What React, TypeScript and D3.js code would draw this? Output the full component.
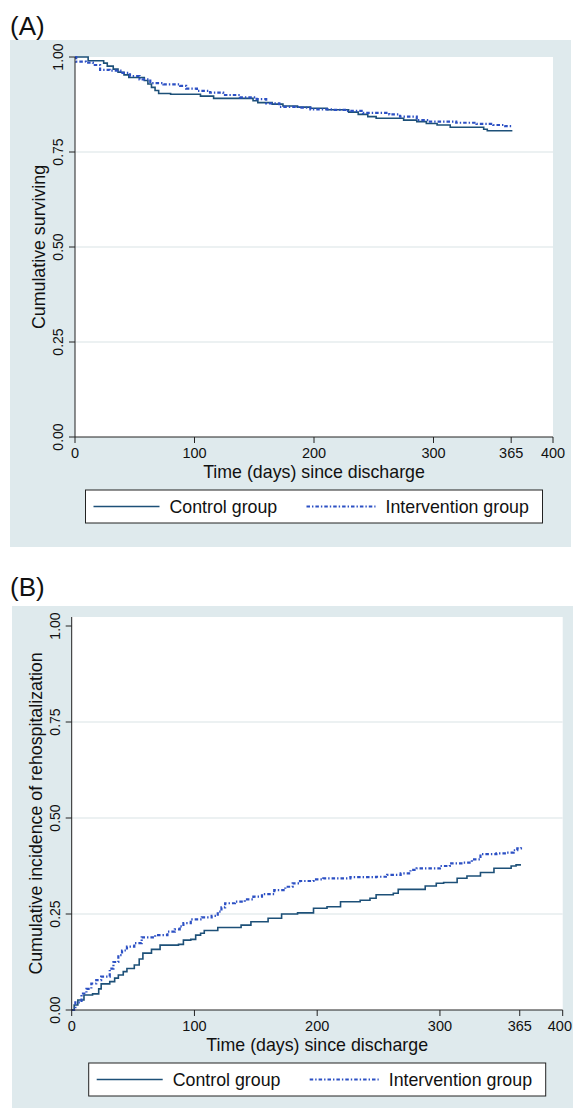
import React from 'react';
import * as d3 from 'd3';

// (day, value) step points
const survivalControl: [number, number][] = [
  [0, 1.0], [11, 0.99], [24, 0.984], [27, 0.976], [32, 0.968], [36, 0.96], [41, 0.953], [45, 0.946],
  [58, 0.938], [61, 0.929], [64, 0.92], [67, 0.912], [70, 0.904], [80, 0.902], [105, 0.897], [116, 0.891],
  [149, 0.885], [153, 0.88], [165, 0.876], [174, 0.871], [186, 0.868], [197, 0.865], [211, 0.861],
  [229, 0.855], [237, 0.849], [245, 0.843], [252, 0.839], [275, 0.834], [286, 0.83], [294, 0.825],
  [303, 0.821], [314, 0.815], [342, 0.81], [345, 0.806], [366, 0.806],
];
const survivalIntervention: [number, number][] = [
  [0, 1.0], [1, 0.988], [9, 0.985], [15, 0.979], [21, 0.966], [29, 0.964], [38, 0.958], [46, 0.95],
  [54, 0.941], [63, 0.931], [74, 0.928], [88, 0.924], [93, 0.917], [102, 0.911], [113, 0.906],
  [124, 0.9], [138, 0.894], [152, 0.889], [160, 0.878], [171, 0.869], [188, 0.867], [197, 0.862],
  [216, 0.861], [227, 0.858], [241, 0.853], [263, 0.849], [272, 0.843], [286, 0.834], [297, 0.83],
  [319, 0.827], [336, 0.824], [350, 0.821], [360, 0.818], [366, 0.818],
];
const rehospControl: [number, number][] = [
  [0, 0], [2, 0.013], [5, 0.026], [10, 0.039], [17, 0.042], [22, 0.055], [24, 0.068], [31, 0.074],
  [35, 0.083], [38, 0.091], [42, 0.1], [45, 0.108], [51, 0.117], [55, 0.133], [58, 0.148], [65, 0.158],
  [72, 0.169], [87, 0.171], [91, 0.182], [97, 0.184], [101, 0.195], [105, 0.2], [108, 0.207],
  [119, 0.215], [138, 0.221], [146, 0.23], [160, 0.239], [171, 0.25], [184, 0.253], [197, 0.265],
  [208, 0.269], [219, 0.282], [235, 0.286], [243, 0.291], [248, 0.3], [262, 0.304], [266, 0.314],
  [288, 0.323], [297, 0.33], [303, 0.332], [314, 0.343], [322, 0.349], [333, 0.358], [344, 0.369],
  [358, 0.375], [362, 0.378], [366, 0.378],
];
const rehospIntervention: [number, number][] = [
  [0, 0], [3, 0.02], [8, 0.043], [12, 0.055], [16, 0.069], [20, 0.078], [24, 0.087], [31, 0.108],
  [34, 0.125], [38, 0.143], [41, 0.155], [45, 0.165], [51, 0.174], [57, 0.189], [68, 0.195],
  [78, 0.204], [84, 0.21], [88, 0.218], [91, 0.226], [97, 0.236], [106, 0.241], [114, 0.245],
  [119, 0.256], [122, 0.267], [125, 0.278], [133, 0.282], [141, 0.288], [148, 0.295], [155, 0.302],
  [165, 0.312], [174, 0.321], [180, 0.33], [186, 0.336], [197, 0.34], [205, 0.343], [227, 0.346],
  [248, 0.347], [257, 0.352], [268, 0.356], [276, 0.365], [281, 0.369], [300, 0.375], [308, 0.382],
  [319, 0.384], [326, 0.392], [333, 0.406], [346, 0.408], [354, 0.41], [360, 0.416], [363, 0.421],
  [366, 0.424],
];

const xTicks = [0, 100, 200, 300, 365, 400];
const yTicks = [0, 0.25, 0.5, 0.75, 1];
const gridTicks = [0.25, 0.5, 0.75];
const legendLabels = ['Control group', 'Intervention group'];

const FONT = '"Liberation Sans", Arial, Helvetica, sans-serif';
const BG = '#dfeaed';
const CONTROL = '#1d5078';
const INTERV = '#2c50c4';
const DASH = '3.5,2,1.4,2';
const PAGE_W = 573;

type PanelProps = {
  letter: string;
  letterY: number;
  bg: { x: number; y: number; w: number; h: number };
  left: number; right: number; top: number; bottom: number; yOne: number;
  yTitle: string;
  control: [number, number][];
  intervention: [number, number][];
};

const Panel = (p: PanelProps) => {
  const x = d3.scaleLinear().domain([0, 400]).range([p.left, p.right]);
  const y = d3.scaleLinear().domain([0, 1]).range([p.bottom, p.yOne]);
  const line = d3.line<[number, number]>()
    .x(d => x(d[0]))
    .y(d => y(d[1]))
    .curve(d3.curveStepAfter);
  const cx = (p.left + p.right) / 2;
  const cy = (p.top + p.bottom) / 2;
  const boxW = 457, boxH = 33;
  const boxX = cx - boxW / 2, boxY = p.bottom + 53;

  return (
    <g fontFamily={FONT} fill="#111">
      <text x={10} y={p.letterY} fontSize={26}>{p.letter}</text>
      <rect x={p.bg.x} y={p.bg.y} width={p.bg.w} height={p.bg.h} fill={BG} />
      <rect x={p.left} y={p.top} width={p.right - p.left} height={p.bottom - p.top} fill="#fff" />
      {gridTicks.map(t => (
        <line key={t} x1={p.left} x2={p.right} y1={y(t)} y2={y(t)} stroke="#e6edee" strokeWidth={1.5} />
      ))}
      <path d={line(p.control) || ''} fill="none" stroke={CONTROL} strokeWidth={1.6} />
      <path d={line(p.intervention) || ''} fill="none" stroke={INTERV} strokeWidth={2.2} strokeDasharray={DASH} />
      {/* axes */}
      <line x1={p.left} x2={p.left} y1={p.top} y2={p.bottom} stroke="#222" strokeWidth={1} />
      <line x1={p.left} x2={p.right} y1={p.bottom} y2={p.bottom} stroke="#222" strokeWidth={1} />
      {yTicks.map(t => (
        <g key={t}>
          <line x1={p.left - 6} x2={p.left} y1={y(t)} y2={y(t)} stroke="#222" />
          <text transform={`translate(${p.left - 12},${y(t)}) rotate(-90)`} textAnchor="middle" fontSize={14}>
            {t.toFixed(2)}
          </text>
        </g>
      ))}
      {xTicks.map(t => {
        // keep the last label inside the page
        const tooFar = x(t) + 12 > PAGE_W - 1;
        return (
          <g key={t}>
            <line x1={x(t)} x2={x(t)} y1={p.bottom} y2={p.bottom + 6} stroke="#222" />
            <text x={tooFar ? PAGE_W - 1 : x(t)} y={p.bottom + 21} textAnchor={tooFar ? 'end' : 'middle'} fontSize={14.5}>{t}</text>
          </g>
        );
      })}
      <text x={cx} y={p.bottom + 41} textAnchor="middle" fontSize={17.8}>Time (days) since discharge</text>
      <text transform={`translate(${p.left - 30},${cy}) rotate(-90)`} textAnchor="middle" fontSize={17.8}>
        {p.yTitle}
      </text>
      {/* legend */}
      <rect x={boxX} y={boxY} width={boxW} height={boxH} fill="#fff" stroke="#222" strokeWidth={1} />
      <line x1={boxX + 8} x2={boxX + 74} y1={boxY + 16.5} y2={boxY + 16.5} stroke={CONTROL} strokeWidth={1.6} />
      <text x={boxX + 84} y={boxY + 23} fontSize={17.8}>{legendLabels[0]}</text>
      <line x1={boxX + 221} x2={boxX + 290} y1={boxY + 16.5} y2={boxY + 16.5} stroke={INTERV} strokeWidth={2.2} strokeDasharray={DASH} />
      <text x={boxX + 300} y={boxY + 23} fontSize={17.8}>{legendLabels[1]}</text>
    </g>
  );
};

export default function App() {
  return (
    <svg width={573} height={1108} style={{ position: 'absolute', left: 0, top: 0, display: 'block', background: '#fff' }}>
      <Panel
        letter="(A)" letterY={35}
        bg={{ x: 10, y: 40, w: 561, h: 507 }}
        left={75} right={553} top={57} bottom={437} yOne={57}
        yTitle="Cumulative surviving"
        control={survivalControl} intervention={survivalIntervention}
      />
      <Panel
        letter="(B)" letterY={596}
        bg={{ x: 12, y: 606, w: 561, h: 502 }}
        left={71.7} right={562.7} top={617} bottom={1010} yOne={626}
        yTitle="Cumulative incidence of rehospitalization"
        control={rehospControl} intervention={rehospIntervention}
      />
    </svg>
  );
}
